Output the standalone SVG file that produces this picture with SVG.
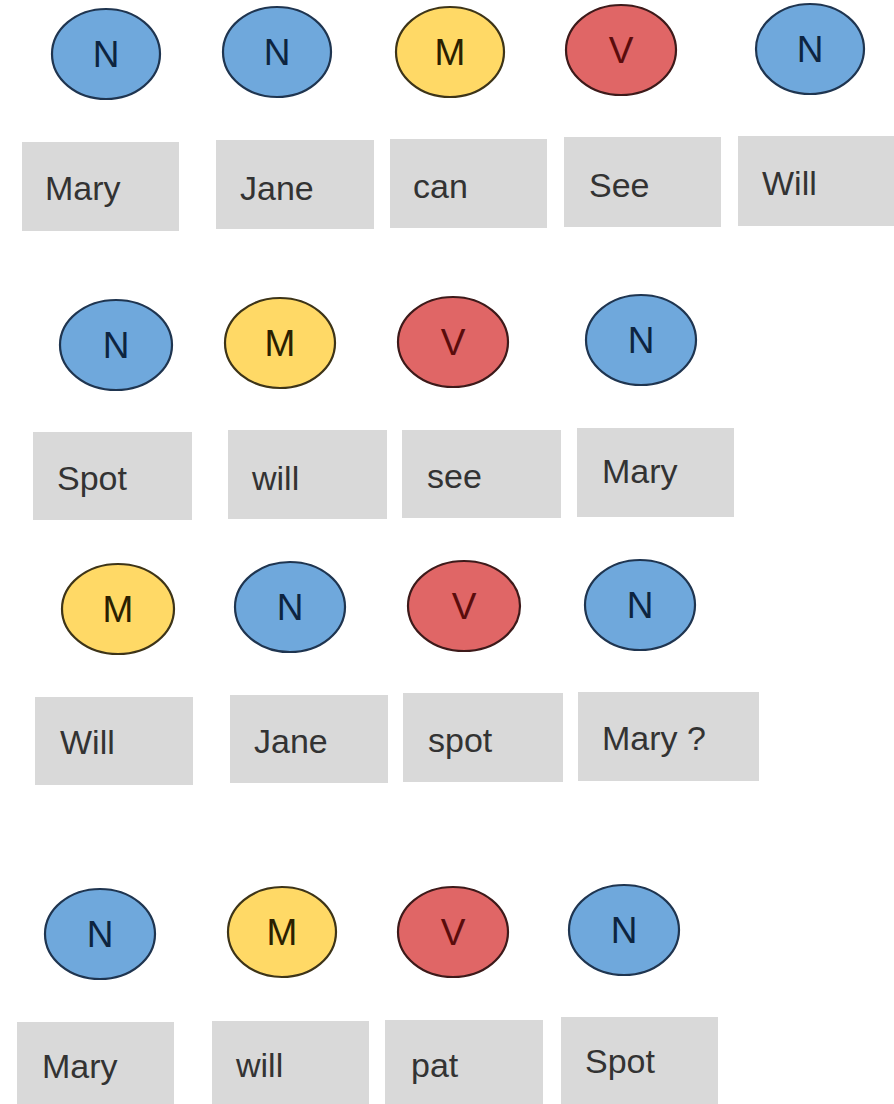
<svg xmlns="http://www.w3.org/2000/svg" width="894" height="1104" viewBox="0 0 894 1104">
<style>
.bg{fill:#ffffff}
.n ellipse{fill:#6fa8dc;stroke:#1f3550;stroke-width:2.2}
.m ellipse{fill:#ffd966;stroke:#3d3418;stroke-width:2.2}
.v ellipse{fill:#e06666;stroke:#3d1a1a;stroke-width:2.2}
.tag{font-family:"Liberation Sans",Arial,sans-serif;font-size:37px;text-anchor:middle}
.n .tag{fill:#0d2440}
.m .tag{fill:#2a2000}
.v .tag{fill:#5a0c0c}
.w rect{fill:#d9d9d9}
.w text{font-family:"Liberation Sans",Arial,sans-serif;font-size:34px;fill:#333333}
</style>
<rect class="bg" x="0" y="0" width="894" height="1104"/>
<g id="connectors"/>
<!-- Row 1 -->
<g id="r1-tag1" class="n"><ellipse cx="106" cy="54" rx="54" ry="45"/><text class="tag" x="106" y="67">N</text></g>
<g id="r1-tag2" class="n"><ellipse cx="277" cy="52" rx="54" ry="45"/><text class="tag" x="277" y="65">N</text></g>
<g id="r1-tag3" class="m"><ellipse cx="450" cy="52" rx="54" ry="45"/><text class="tag" x="450" y="65">M</text></g>
<g id="r1-tag4" class="v"><ellipse cx="621" cy="50" rx="55" ry="45"/><text class="tag" x="621" y="63">V</text></g>
<g id="r1-tag5" class="n"><ellipse cx="810" cy="49" rx="54" ry="45"/><text class="tag" x="810" y="62">N</text></g>
<g id="r1-w1" class="w"><rect x="22" y="142" width="157" height="89"/><text x="45" y="200">Mary</text></g>
<g id="r1-w2" class="w"><rect x="216" y="140" width="158" height="89"/><text x="240" y="200">Jane</text></g>
<g id="r1-w3" class="w"><rect x="390" y="139" width="157" height="89"/><text x="413" y="198">can</text></g>
<g id="r1-w4" class="w"><rect x="564" y="137" width="157" height="90"/><text x="589" y="197">See</text></g>
<g id="r1-w5" class="w"><rect x="738" y="136" width="156" height="90"/><text x="762" y="195">Will</text></g>
<!-- Row 2 -->
<g id="r2-tag1" class="n"><ellipse cx="116" cy="345" rx="56" ry="45"/><text class="tag" x="116" y="358">N</text></g>
<g id="r2-tag2" class="m"><ellipse cx="280" cy="343" rx="55" ry="45"/><text class="tag" x="280" y="356">M</text></g>
<g id="r2-tag3" class="v"><ellipse cx="453" cy="342" rx="55" ry="45"/><text class="tag" x="453" y="355">V</text></g>
<g id="r2-tag4" class="n"><ellipse cx="641" cy="340" rx="55" ry="45"/><text class="tag" x="641" y="353">N</text></g>
<g id="r2-w1" class="w"><rect x="33" y="432" width="159" height="88"/><text x="57" y="490">Spot</text></g>
<g id="r2-w2" class="w"><rect x="228" y="430" width="159" height="89"/><text x="252" y="490">will</text></g>
<g id="r2-w3" class="w"><rect x="402" y="430" width="159" height="88"/><text x="427" y="488">see</text></g>
<g id="r2-w4" class="w"><rect x="577" y="428" width="157" height="89"/><text x="602" y="483">Mary</text></g>
<!-- Row 3 -->
<g id="r3-tag1" class="m"><ellipse cx="118" cy="609" rx="56" ry="45"/><text class="tag" x="118" y="622">M</text></g>
<g id="r3-tag2" class="n"><ellipse cx="290" cy="607" rx="55" ry="45"/><text class="tag" x="290" y="620">N</text></g>
<g id="r3-tag3" class="v"><ellipse cx="464" cy="606" rx="56" ry="45"/><text class="tag" x="464" y="619">V</text></g>
<g id="r3-tag4" class="n"><ellipse cx="640" cy="605" rx="55" ry="45"/><text class="tag" x="640" y="618">N</text></g>
<g id="r3-w1" class="w"><rect x="35" y="697" width="158" height="88"/><text x="60" y="754">Will</text></g>
<g id="r3-w2" class="w"><rect x="230" y="695" width="158" height="88"/><text x="254" y="753">Jane</text></g>
<g id="r3-w3" class="w"><rect x="403" y="693" width="160" height="89"/><text x="428" y="752">spot</text></g>
<g id="r3-w4" class="w"><rect x="578" y="692" width="181" height="89"/><text x="602" y="750">Mary ?</text></g>
<!-- Row 4 -->
<g id="r4-tag1" class="n"><ellipse cx="100" cy="934" rx="55" ry="45"/><text class="tag" x="100" y="947">N</text></g>
<g id="r4-tag2" class="m"><ellipse cx="282" cy="932" rx="54" ry="45"/><text class="tag" x="282" y="945">M</text></g>
<g id="r4-tag3" class="v"><ellipse cx="453" cy="932" rx="55" ry="45"/><text class="tag" x="453" y="945">V</text></g>
<g id="r4-tag4" class="n"><ellipse cx="624" cy="930" rx="55" ry="45"/><text class="tag" x="624" y="943">N</text></g>
<g id="r4-w1" class="w"><rect x="17" y="1022" width="157" height="90"/><text x="42" y="1078">Mary</text></g>
<g id="r4-w2" class="w"><rect x="212" y="1021" width="157" height="90"/><text x="236" y="1077">will</text></g>
<g id="r4-w3" class="w"><rect x="385" y="1020" width="158" height="90"/><text x="411" y="1077">pat</text></g>
<g id="r4-w4" class="w"><rect x="561" y="1017" width="157" height="90"/><text x="585" y="1073">Spot</text></g>
</svg>
